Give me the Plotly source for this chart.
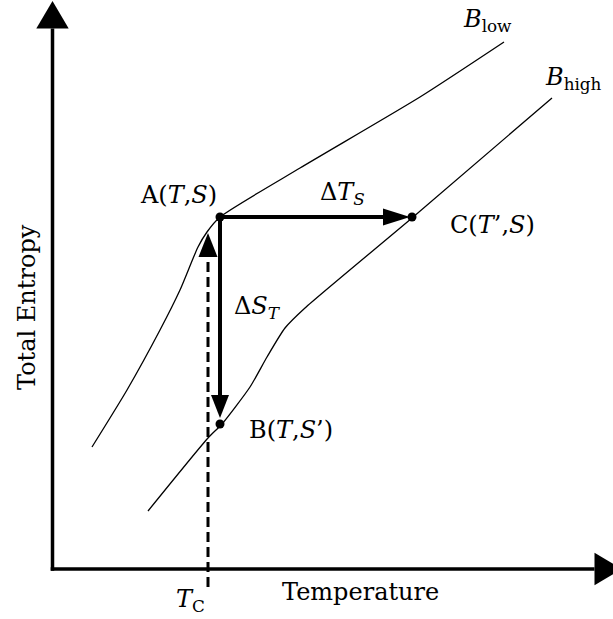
import plotly.graph_objects as go

# ---- Schematic data (Temperature T vs Total Entropy S, arbitrary units) ----
blow_T = [0.395, 0.745, 1.075, 1.275, 1.455, 1.545, 1.675, 2.475, 3.675, 4.515]
blow_S = [1.22, 1.79, 2.39, 2.79, 3.22, 3.37, 3.52, 4.01, 4.72, 5.27]

bhigh_T = [0.955, 1.555, 1.695, 1.975, 2.145, 2.325, 2.525, 3.595, 4.995]
bhigh_S = [0.58, 1.31, 1.45, 1.82, 2.12, 2.41, 2.61, 3.51, 4.71]

point_names = ["A", "B", "C"]
point_T = [1.675, 1.675, 3.595]
point_S = [3.52, 1.45, 3.52]

T_C = 1.555
dash_S_start = -0.18

axis_T_end = 5.695
axis_S_end = 5.68

FONT = "DejaVu Serif"
FS = 24

fig = go.Figure()

fig.add_trace(go.Scatter(x=blow_T, y=blow_S, mode="lines",
                         line=dict(color="black", width=1.3, shape="spline", smoothing=0.6),
                         hoverinfo="skip", showlegend=False))
fig.add_trace(go.Scatter(x=bhigh_T, y=bhigh_S, mode="lines",
                         line=dict(color="black", width=1.3, shape="spline", smoothing=0.6),
                         hoverinfo="skip", showlegend=False))
fig.add_trace(go.Scatter(x=point_T, y=point_S, mode="markers",
                         marker=dict(color="black", size=9),
                         hoverinfo="skip", showlegend=False))

shapes = []


def seg(x0, y0, x1, y1, w, dash=None):
    d = dict(type="line", x0=x0, y0=y0, x1=x1, y1=y1, xref="x", yref="y",
             layer="below", line=dict(color="black", width=w))
    if dash:
        d["line"]["dash"] = dash
    shapes.append(d)


def tri(p1, p2, p3):
    path = "M {} {} L {} {} L {} {} Z".format(p1[0], p1[1], p2[0], p2[1], p3[0], p3[1])
    shapes.append(dict(type="path", path=path, xref="x", yref="y", layer="below",
                       fillcolor="black", line=dict(width=0)))


# axes
head_len_ax = 0.275
half_ax = 0.162
seg(-0.018, 0, axis_T_end - head_len_ax, 0, 3.5)
tri((axis_T_end - head_len_ax, -half_ax), (axis_T_end - head_len_ax, half_ax), (axis_T_end, 0))
seg(0, -0.018, 0, axis_S_end - head_len_ax, 3.5)
tri((-half_ax, axis_S_end - head_len_ax), (half_ax, axis_S_end - head_len_ax), (0, axis_S_end))

# A -> C (Delta T_S)
aT, aS = point_T[0], point_S[0]
bT, bS = point_T[1], point_S[1]
cT, cS = point_T[2], point_S[2]
hl = 0.27
hw = 0.085
tipC = cT - 0.02
seg(aT, aS, tipC - hl + 0.02, cS, 4)
tri((tipC - hl, cS - hw), (tipC - hl, cS + hw), (tipC, cS))

# A -> B (Delta S_T)
tipB = bS + 0.06
seg(aT, aS, bT, tipB + 0.23 - 0.02, 4)
tri((bT - 0.09, tipB + 0.23), (bT + 0.09, tipB + 0.23), (bT, tipB))

# dashed T_C line
tipD = aS - 0.16
seg(T_C, dash_S_start, T_C, tipD - 0.24, 3, dash="10px,5px")
tri((T_C - 0.095, tipD - 0.24), (T_C + 0.095, tipD - 0.24), (T_C, tipD))

annotations = [
    dict(x=1.255, y=3.74, text="A(<i>T</i>,<i>S</i>)"),
    dict(x=2.895, y=3.76, text="Δ<i>T</i><sub><i>S</i></sub>"),
    dict(x=4.395, y=3.44, text="C(<i>T</i>’,<i>S</i>)"),
    dict(x=2.045, y=2.62, text="Δ<i>S</i><sub><i>T</i></sub>"),
    dict(x=2.385, y=1.39, text="B(<i>T</i>,<i>S</i>’)"),
    dict(x=1.375, y=-0.31, text="<i>T</i><sub>C</sub>"),
    dict(x=3.075, y=-0.23, text="Temperature"),
    dict(x=-0.255, y=2.62, text="Total Entropy", textangle=-90),
    dict(x=4.345, y=5.49, text="<i>B</i><sub>low</sub>"),
    dict(x=5.205, y=4.91, text="<i>B</i><sub>high</sub>"),
]
for a in annotations:
    a.update(xref="x", yref="y", showarrow=False, xanchor="center", yanchor="middle",
             font=dict(family=FONT, size=FS, color="black"))

fig.update_layout(
    width=613, height=619, autosize=False,
    margin=dict(l=0, r=0, t=0, b=0, pad=0),
    plot_bgcolor="white", paper_bgcolor="white",
    xaxis=dict(range=[-0.525, 5.605], visible=False, fixedrange=True),
    yaxis=dict(range=[-0.50, 5.69], visible=False, fixedrange=True),
    shapes=shapes, annotations=annotations, showlegend=False,
)

fig.write_html("out.html", config={"displayModeBar": False})
